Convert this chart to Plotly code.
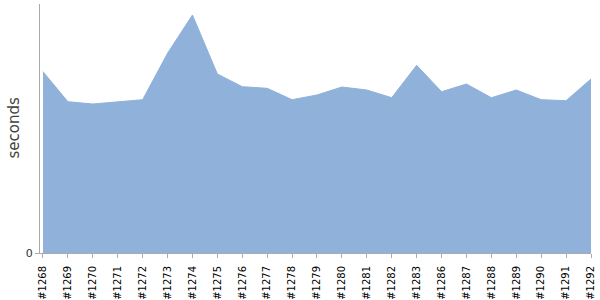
import plotly.graph_objects as go

builds = ["#1268", "#1269", "#1270", "#1271", "#1272", "#1273", "#1274", "#1275",
          "#1276", "#1277", "#1278", "#1279", "#1280", "#1281", "#1282", "#1283",
          "#1286", "#1287", "#1288", "#1289", "#1290", "#1291", "#1292"]
seconds = [181.3, 151.3, 149, 151, 153.3, 199.7, 238, 179,
           166.3, 164.7, 153.3, 158, 166, 163, 155.3, 187.7,
           161.3, 169, 155.3, 163, 153.3, 152.3, 174]

fig = go.Figure()
fig.add_trace(go.Scatter(
    x=builds, y=seconds, mode="lines", fill="tozeroy",
    line=dict(color="#8fb1da", width=1),
    fillcolor="#8fb1da", hoverinfo="x+y"))

fig.add_annotation(text="seconds", xref="paper", yref="paper", x=-0.049, y=0.5,
                   xanchor="center", yanchor="middle", textangle=-90, showarrow=False,
                   font=dict(size=15, color="#444", family="DejaVu Sans"))

fig.update_layout(
    width=600, height=300,
    margin=dict(l=40, r=9, t=4, b=47),
    paper_bgcolor="white", plot_bgcolor="white",
    showlegend=False,
    font=dict(family="DejaVu Sans", size=10, color="#000"),
    xaxis=dict(type="category", range=[-0.12, 22], showgrid=False, zeroline=False,
               showline=True, linecolor="#aaaaaa", linewidth=1,
               ticks="outside", ticklen=4, tickcolor="#aaaaaa",
               ticklabelstandoff=4, automargin=False,
               tickangle=-90, tickfont=dict(size=10, color="#000")),
    yaxis=dict(range=[0, 249], showgrid=False, zeroline=False,
               showline=True, linecolor="#aaaaaa", linewidth=1,
               ticks="outside", ticklen=4, tickcolor="#aaaaaa", automargin=False,
               tickvals=[0], ticktext=["0"], tickfont=dict(size=11, color="#333")),
)

fig.write_html("out.html")
